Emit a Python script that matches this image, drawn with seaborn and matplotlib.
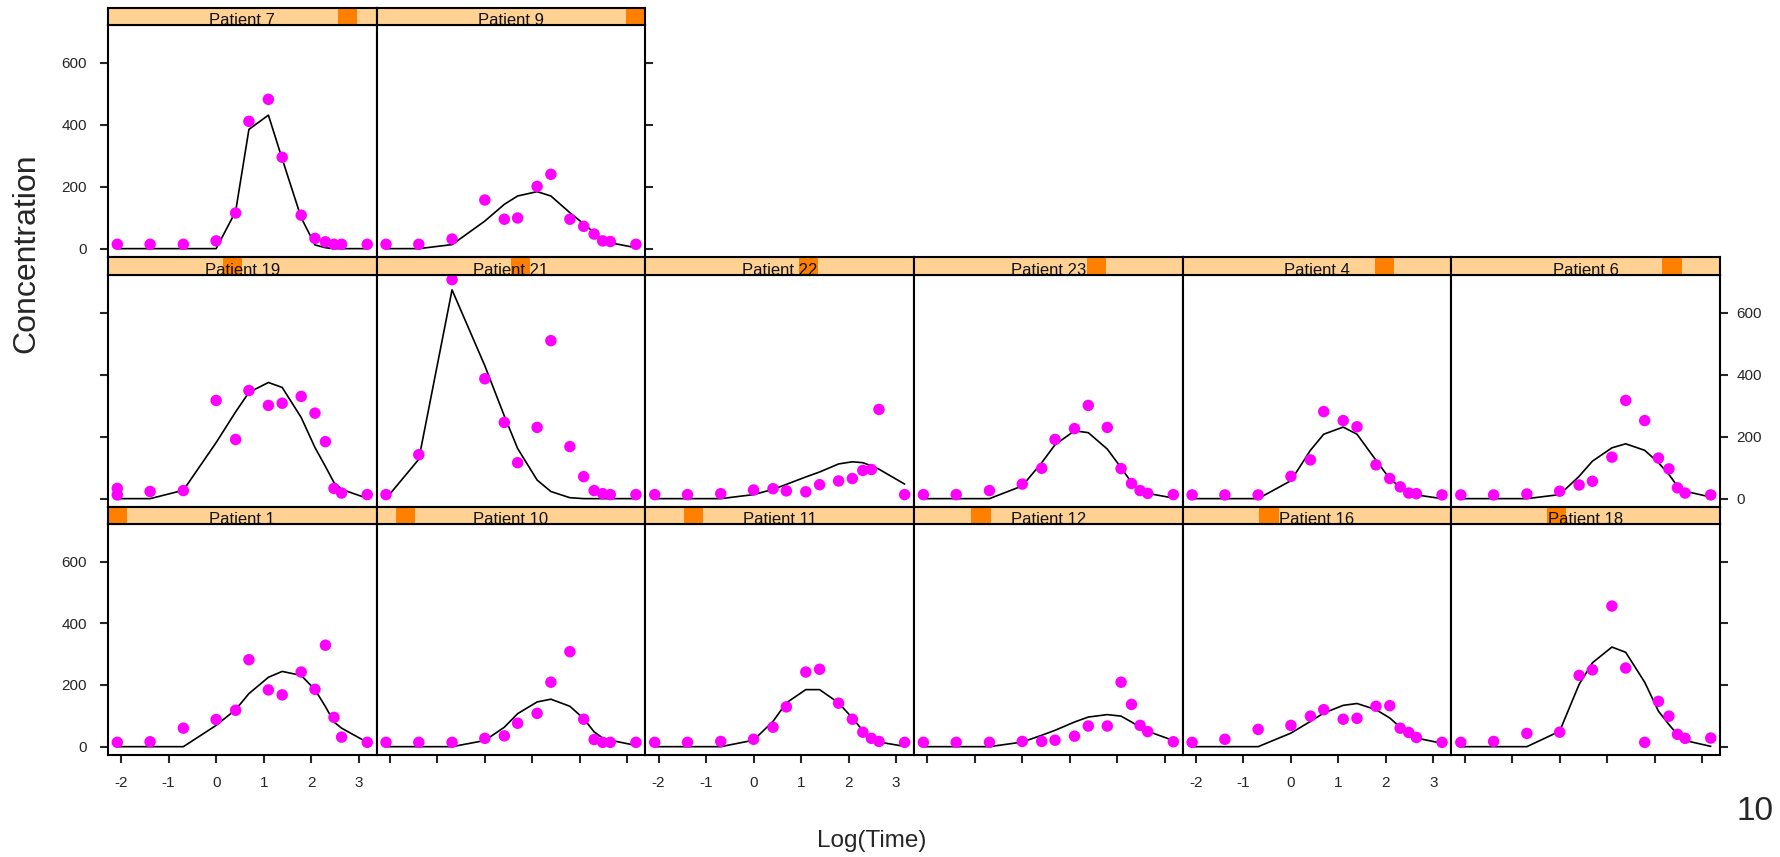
import matplotlib
matplotlib.use("Agg")
import matplotlib.pyplot as plt
from matplotlib import font_manager
from matplotlib.patches import Rectangle
import numpy as np
import pandas as pd
import seaborn as sns

# sampling times, natural log of hours
log_time = [-2.08, -1.39, -0.69, 0.0, 0.41, 0.69, 1.10, 1.39, 1.79, 2.08, 2.30, 2.48, 2.64, 3.18]

# factor levels in sorted (character) order -> position of the strip marker
level_order = ["1", "10", "11", "12", "16", "18", "19", "21", "22", "23", "4", "6", "7", "9"]

row_top = ["7", "9"]
row_mid = ["19", "21", "22", "23", "4", "6"]
row_bot = ["1", "10", "11", "12", "16", "18"]

# observed concentrations and fitted curve per patient
p7_obs = [14, 14, 14, 25, 115, 411, 482, 295, 108, 33, 22, 14, 14, 14]
p7_fit = [0, 0, 0, 0, 120, 385, 431, 290, 100, 12, 3, 0, 0, 0]
p9_obs = [14, 14, 31, 157, 95, 99, 201, 240, 95, 72, 47, 25, 23, 14]
p9_fit = [0, 0, 13, 89, 143, 170, 184, 170, 116, 80, 52, 30, 19, 3]

p19_time = [-2.08] + log_time  # two samples at the first time
p19_obs = [33, 12, 23, 26, 317, 191, 349, 301, 308, 330, 276, 184, 33, 18, 13]
p19_fit = [0, 0, 27, 181, 280, 343, 375, 359, 262, 165, 104, 52, 30, 1]
p21_obs = [13, 142, 707, 387, 246, 116, 230, 510, 168, 71, 26, 16, 13, 13]
p21_fit = [0, 127, 674, 429, 267, 162, 60, 23, 3, 0, 0, 0, 0, 0]
p22_obs = [13, 13, 16, 28, 32, 25, 22, 45, 57, 65, 91, 94, 288, 13]
p22_fit = [0, 0, 0, 13, 30, 46, 70, 86, 112, 119, 116, 106, 95, 47]
p23_obs = [13, 13, 26, 47, 98, 191, 226, 301, 230, 97, 49, 26, 17, 13]
p23_fit = [0, 0, 0, 41, 116, 174, 219, 213, 160, 100, 52, 25, 17, 2]
p4_obs = [12, 12, 12, 72, 125, 281, 252, 232, 109, 65, 38, 18, 16, 12]
p4_fit = [0, 0, 0, 58, 156, 208, 231, 208, 124, 64, 37, 18, 12, 0]
p6_obs = [12, 12, 15, 24, 44, 56, 134, 317, 252, 131, 96, 35, 18, 12]
p6_fit = [0, 0, 0, 13, 72, 121, 164, 177, 156, 116, 78, 40, 24, 5]

p1_obs = [14, 16, 60, 88, 118, 282, 184, 168, 242, 186, 329, 95, 31, 14]
p1_fit = [0, 0, 0, 69, 120, 172, 225, 244, 231, 185, 130, 80, 60, 14]
p10_obs = [14, 14, 14, 27, 35, 76, 108, 209, 308, 89, 23, 14, 14, 14]
p10_fit = [0, 0, 0, 20, 63, 107, 145, 154, 131, 91, 48, 28, 21, 4]
p11_obs = [14, 14, 17, 24, 63, 129, 242, 251, 141, 89, 47, 27, 17, 14]
p11_fit = [0, 0, 0, 21, 82, 142, 185, 185, 142, 93, 52, 28, 15, 1]
p12_obs = [14, 14, 14, 17, 17, 21, 34, 67, 67, 209, 137, 69, 49, 16]
p12_fit = [0, 0, 0, 15, 37, 53, 80, 96, 104, 99, 80, 63, 50, 20]
p16_obs = [14, 24, 56, 69, 99, 120, 89, 92, 131, 133, 60, 46, 30, 14]
p16_fit = [0, 0, 0, 44, 82, 109, 134, 140, 120, 93, 63, 44, 28, 11]
p18_obs = [14, 17, 43, 47, 231, 249, 456, 255, 14, 147, 99, 40, 27, 28]
p18_fit = [0, 0, 0, 50, 202, 272, 323, 306, 209, 115, 72, 39, 20, 1]

obs = {"7": p7_obs, "9": p9_obs, "19": p19_obs, "21": p21_obs, "22": p22_obs,
       "23": p23_obs, "4": p4_obs, "6": p6_obs, "1": p1_obs, "10": p10_obs,
       "11": p11_obs, "12": p12_obs, "16": p16_obs, "18": p18_obs}
fit = {"7": p7_fit, "9": p9_fit, "19": p19_fit, "21": p21_fit, "22": p22_fit,
       "23": p23_fit, "4": p4_fit, "6": p6_fit, "1": p1_fit, "10": p10_fit,
       "11": p11_fit, "12": p12_fit, "16": p16_fit, "18": p18_fit}

rows = []
for pid, vals in obs.items():
    times = p19_time if pid == "19" else log_time
    rows += [{"Patient": pid, "LogTime": t, "Conc": v} for t, v in zip(times, vals)]
df_obs = pd.DataFrame(rows)
df_fit = pd.DataFrame([{"Patient": pid, "LogTime": t, "Fit": v}
                       for pid, vals in fit.items() for t, v in zip(log_time, vals)])

sns.set_style("white")
plt.rcParams["font.family"] = ["Liberation Sans", "DejaVu Sans"]
plt.rcParams["axes.unicode_minus"] = False
names = {f.name for f in font_manager.fontManager.ttflist}
narrow = "Liberation Sans Narrow" in names

W, H = 1780, 857
fig = plt.figure(figsize=(W / 100, H / 100), dpi=100)


def box(x0, y0, x1, y1):
    return [x0 / W, 1 - y1 / H, (x1 - x0) / W, (y1 - y0) / H]


col_left = [107.8, 376.5, 645.2, 913.9, 1182.6, 1451.3]
col_w = 268.7
row_pos = [(8, 25, 257), (257, 275, 507), (507, 524, 755)]
strip_bg = "#FFD294"
strip_mark = "#FF7F00"
lw_frame = 1.5

for r, patients in enumerate([row_top, row_mid, row_bot]):
    s_top, p_top, p_bot = row_pos[r]
    for c, pid in enumerate(patients):
        x0 = col_left[c]
        x1 = x0 + col_w
        ax = fig.add_axes(box(x0, p_top, x1, p_bot))
        sub_o = df_obs[df_obs["Patient"] == pid]
        sub_f = df_fit[df_fit["Patient"] == pid]
        sns.lineplot(data=sub_f, x="LogTime", y="Fit", ax=ax, color="black",
                     lw=1.2, estimator=None, sort=False, legend=False)
        sns.scatterplot(data=sub_o, x="LogTime", y="Conc", ax=ax, color="#FF00FF",
                        s=68, linewidth=0, edgecolor="none", legend=False, zorder=3)
        ax.set_xlim(-2.28, 3.375)
        ax.set_ylim(-27, 722)
        ax.set_xlabel("")
        ax.set_ylabel("")
        for sp in ax.spines.values():
            sp.set_color("black")
            sp.set_linewidth(lw_frame)
        ax.tick_params(direction="out", length=6, width=lw_frame, labelsize=11,
                       left=False, right=False, top=False, bottom=False,
                       labelleft=False, labelright=False, labelbottom=False, pad=9)
        ax.set_yticks([0, 200, 400, 600])
        ax.set_xticks(range(-2, 4))

        last = c == len(patients) - 1
        if c == 0:
            ax.tick_params(left=True, labelleft=(r != 1))
        if last:
            ax.tick_params(right=True, labelright=(r == 1), pad=6)
        if r == 2:
            ax.tick_params(axis="x", bottom=True, labelbottom=(c % 2 == 0), pad=9)

        sax = fig.add_axes(box(x0, s_top, x1, p_top))
        sax.set_xlim(0, 1)
        sax.set_ylim(0, 1)
        sax.set_xticks([])
        sax.set_yticks([])
        sax.set_facecolor(strip_bg)
        for sp in sax.spines.values():
            sp.set_color("black")
            sp.set_linewidth(lw_frame)
        k = level_order.index(pid)
        n = len(level_order)
        sax.add_patch(Rectangle((k / n, 0), 1 / n, 1, facecolor=strip_mark,
                                edgecolor="none", zorder=1))
        sax.text(0.5, 0.0, f"Patient {pid}", ha="center", va="baseline",
                 fontsize=12, color="#111111", zorder=2, clip_on=True)

fig.text(26 / W, 1 - 253 / H, "Concentration", rotation=90, ha="center", va="center",
         fontsize=23)
if narrow:
    fig.text(872 / W, 1 - 841 / H, "Log(Time)", ha="center", va="center",
             fontsize=18.5, family="Liberation Sans Narrow")
    fig.text(1755 / W, 1 - 811 / H, "10", ha="center", va="center",
             fontsize=26, family="Liberation Sans Narrow")
else:
    fig.text(872 / W, 1 - 841 / H, "Log(Time)", ha="center", va="center", fontsize=17.5)
    fig.text(1755 / W, 1 - 811 / H, "10", ha="center", va="center", fontsize=24)

fig.savefig("out.png", dpi=100)
